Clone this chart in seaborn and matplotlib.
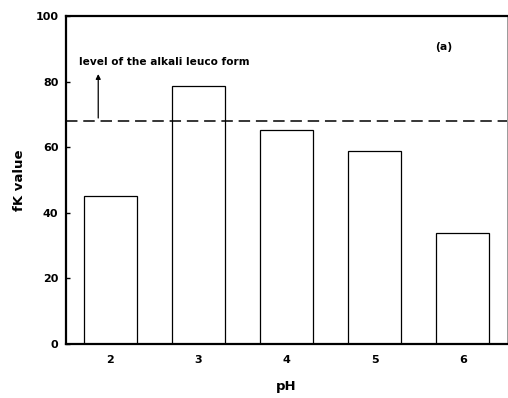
import matplotlib
matplotlib.use("Agg")
import matplotlib.pyplot as plt
import seaborn as sns

ph_labels = ["2", "3", "4", "5", "6"]
fk_values = [45.2, 78.7, 65.2, 58.7, 33.8]
alkali_level = 68.1
y_ticks = [0, 20, 40, 60, 80, 100]

plt.rcParams['font.family'] = ['DejaVu Sans']
plt.rcParams['font.weight'] = 'bold'

fig = plt.figure(figsize=(5.08, 3.98), dpi=100)
ax = fig.add_axes([0.130, 0.1357, 0.868, 0.8241])

sns.barplot(x=ph_labels, y=fk_values, color="white", edgecolor="black",
            linewidth=0.9, width=0.6, saturation=1, ax=ax, zorder=2)

ax.axhline(alkali_level, color="black", linewidth=1.1, dashes=(7.5, 3.8), zorder=3)

ax.set_ylim(0, 100)
ax.set_xlim(-0.5, 4.5)
ax.set_yticks(y_ticks)
ax.set_yticklabels([str(v) for v in y_ticks], fontsize=8, fontweight='bold')
ax.set_xticks(range(len(ph_labels)))
ax.set_xticklabels(ph_labels, fontsize=8, fontweight='bold')
ax.tick_params(axis='y', direction='in', length=3, width=1, pad=5.5)
ax.tick_params(axis='x', direction='in', length=2, width=1, pad=8)

ax.set_xlabel("pH", fontsize=9.5, fontweight='bold', labelpad=11)
ax.set_ylabel("fK value", fontsize=9.5, fontweight='bold', labelpad=7)

for side in ['left', 'top', 'bottom']:
    ax.spines[side].set_linewidth(1.6)
    ax.spines[side].set_color('black')
ax.spines['right'].set_linewidth(0.7)
ax.spines['right'].set_color('#999999')

ax.annotate("", xy=(-0.135, 82.3), xytext=(-0.135, 68.9),
            arrowprops=dict(arrowstyle="-|>", color="black", lw=0.9,
                            mutation_scale=7, shrinkA=0, shrinkB=0))
ax.text(-0.35, 86.0, "level of the alkali leuco form", fontsize=7.6,
        fontweight='bold', ha='left', va='center')
ax.text(3.78, 90.7, "(a)", fontsize=7.8, fontweight='bold', ha='center', va='center')

fig.savefig("out.png", dpi=100)
